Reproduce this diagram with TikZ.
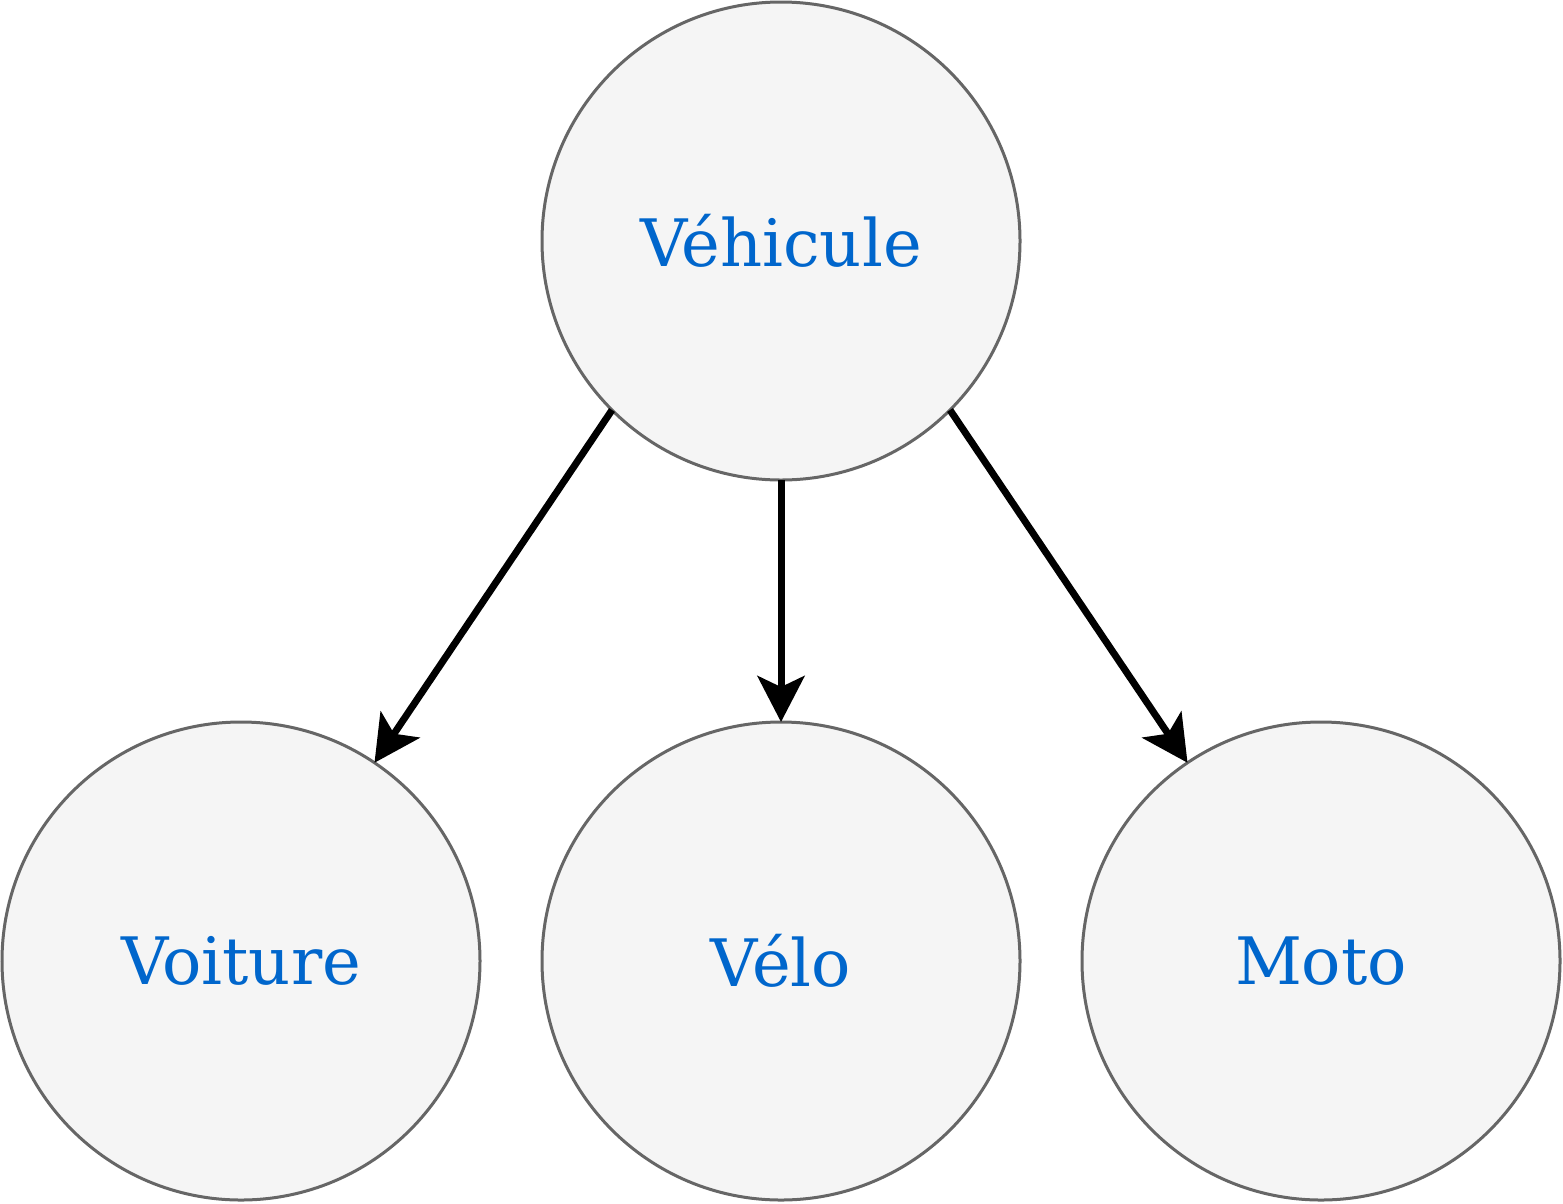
\documentclass[tikz,border=0pt]{standalone}
\usepackage{fontspec}
\setmainfont{DejaVu Serif}
\usetikzlibrary{arrows.meta}
\definecolor{nodefill}{HTML}{F5F5F5}
\definecolor{nodeline}{HTML}{666666}
\definecolor{nodetext}{HTML}{0066CC}
\tikzset{
  circ/.style={circle, draw=nodeline, fill=nodefill, line width=3pt,
    minimum size=478pt, inner sep=0pt, outer sep=0pt,
    text=nodetext, font=\fontsize{65.4}{78}\selectfont},
  conn/.style={line width=7pt, draw=black,
    -{Stealth[length=46pt, width=47pt, inset=11pt]}}
}
\begin{document}
\begin{tikzpicture}[x=1pt,y=-1pt]
\useasboundingbox (0,0) rectangle (1563,1203);
\node[circ] (veh) at (781,241) {Véhicule};
\node[circ] (voit) at (241,961) {Voiture};
\node[circ] (velo) at (781,961) {Vélo};
\node[circ] (moto) at (1321,961) {Moto};
\draw[conn] (veh.225) -- (voit);
\draw[conn] (veh) -- (velo);
\draw[conn] (veh.315) -- (moto);
\end{tikzpicture}
\end{document}
